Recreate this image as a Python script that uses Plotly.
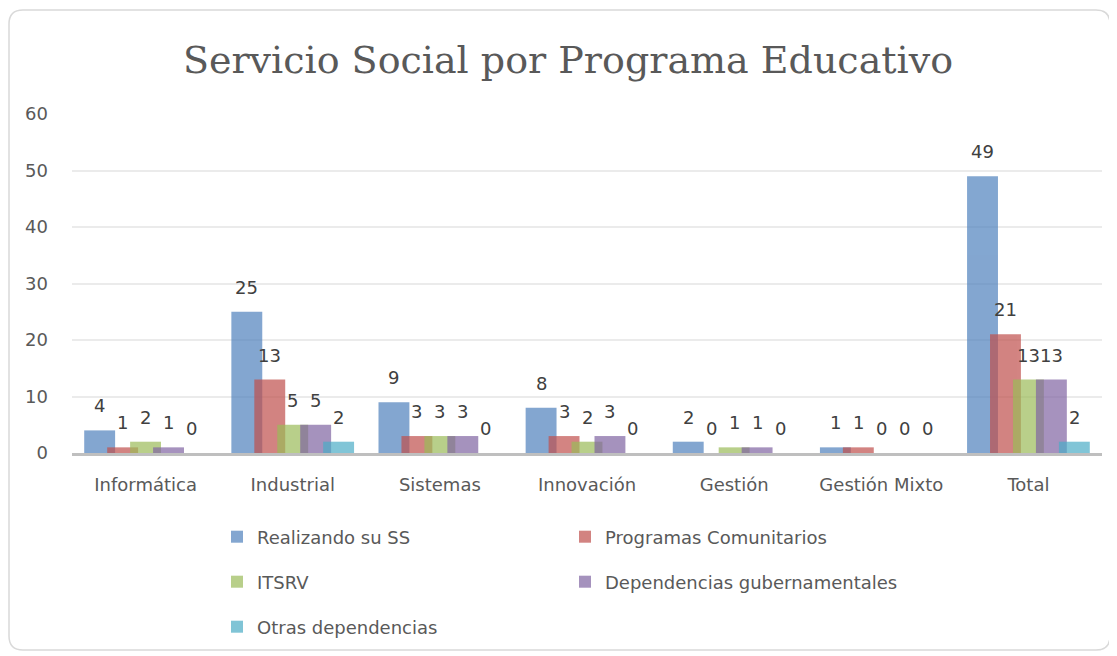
import plotly.graph_objects as go

categories = ["Informática", "Industrial", "Sistemas", "Innovación", "Gestión", "Gestión Mixto", "Total"]
series_names = ["Realizando su SS", "Programas Comunitarios", "ITSRV",
                "Dependencias gubernamentales", "Otras dependencias"]
realizando = [4, 25, 9, 8, 2, 1, 49]
programas = [1, 13, 3, 3, 0, 1, 21]
itsrv = [2, 5, 3, 2, 1, 0, 13]
dependencias = [1, 5, 3, 3, 1, 0, 13]
otras = [0, 2, 0, 0, 0, 0, 2]
series_values = [realizando, programas, itsrv, dependencias, otras]
colors = ["#4F81BD", "#C0504D", "#9BBB59", "#8064A2", "#4BACC6"]
legend_rows = ["legend", "legend", "legend2", "legend2", "legend3"]

# page has an 8px body margin; figure coordinates below are page minus 8
W, H = 1109, 648
L, R, T, B = 64, 1094, 106, 445

FONT = "DejaVu Sans, Verdana, sans-serif"
bar_w = 0.21
step = 0.156
span = step * (len(series_names) - 1) + bar_w

fig = go.Figure()
annotations = []
for i, (name, vals, col, lg) in enumerate(zip(series_names, series_values, colors, legend_rows)):
    off = -span / 2 + i * step
    fig.add_trace(go.Bar(
        x=categories, y=vals, name=name,
        marker=dict(color=col, line=dict(width=0)),
        opacity=0.7,
        width=bar_w, offset=off,
        legend=lg,
    ))
    for ci, v in enumerate(vals):
        annotations.append(dict(
            x=ci + off + bar_w / 2, y=v, xref="x", yref="y",
            text=str(v), showarrow=False, xanchor="center", yanchor="bottom",
            yshift=12, font=dict(family=FONT, size=18, color="#404040"),
        ))

def px_x(p):
    return (p - L) / (R - L)

def px_y(p):
    return (B - p) / (B - T)

# rounded chart border
x0, x1, y0, y1, r = 1, 1102, 2, 642, 14
path = (f"M {px_x(x0 + r)},{px_y(y0)} L {px_x(x1 - r)},{px_y(y0)} "
        f"Q {px_x(x1)},{px_y(y0)} {px_x(x1)},{px_y(y0 + r)} "
        f"L {px_x(x1)},{px_y(y1 - r)} Q {px_x(x1)},{px_y(y1)} {px_x(x1 - r)},{px_y(y1)} "
        f"L {px_x(x0 + r)},{px_y(y1)} Q {px_x(x0)},{px_y(y1)} {px_x(x0)},{px_y(y1 - r)} "
        f"L {px_x(x0)},{px_y(y0 + r)} Q {px_x(x0)},{px_y(y0)} {px_x(x0 + r)},{px_y(y0)} Z")

legend_common = dict(orientation="h", xanchor="left", yanchor="middle",
                     entrywidth=303, entrywidthmode="pixels",
                     font=dict(family=FONT, size=18, color="#595959"),
                     itemwidth=30, bgcolor="rgba(0,0,0,0)")

fig.update_layout(
    width=W, height=H,
    margin=dict(l=L, r=W - R, t=T, b=H - B, autoexpand=False),
    paper_bgcolor="white", plot_bgcolor="white",
    barmode="overlay",
    title=dict(text="Servicio Social por Programa Educativo",
               xref="container", x=560 / W, xanchor="center",
               yref="container", y=1 - 52 / H, yanchor="middle",
               font=dict(family="DejaVu Serif, Liberation Serif, serif",
                         size=38, color="#595959")),
    xaxis=dict(range=[-0.5, 6.5], showgrid=False, showline=True, linecolor="#BFBFBF", linewidth=2.5,
               ticks="", tickfont=dict(family=FONT, size=18, color="#595959"),
               ticklabelstandoff=14),
    yaxis=dict(range=[0, 60], dtick=10, showgrid=True, gridcolor="#EBEBEB", gridwidth=2,
               zeroline=False, showline=False, ticks="",
               tickfont=dict(family=FONT, size=18, color="#595959"),
               ticklabelstandoff=23),
    legend=dict(legend_common, x=px_x(209), y=px_y(529)),
    legend2=dict(legend_common, x=px_x(209), y=px_y(574)),
    legend3=dict(legend_common, x=px_x(209), y=px_y(619)),
    annotations=annotations,
    shapes=[dict(type="path", xref="paper", yref="paper", path=path,
                 line=dict(color="#D9D9D9", width=1.5), fillcolor="rgba(0,0,0,0)", layer="below")],
)

fig.write_html("out.html")
